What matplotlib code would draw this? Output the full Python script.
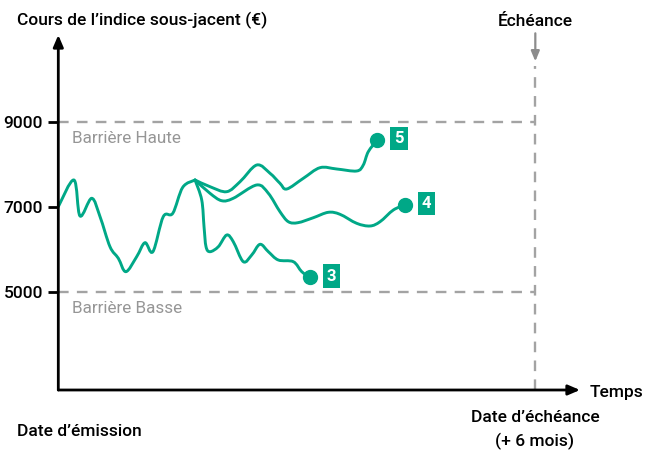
import matplotlib
matplotlib.use('Agg')
import matplotlib.pyplot as plt
from matplotlib.path import Path
from matplotlib.patches import PathPatch
import numpy as np

plt.rcParams['font.family'] = ['Roboto', 'DejaVu Sans']

# ---- data (months since issue, index level in EUR) ----
common_t = [0.0, 0.197, 0.273, 0.42, 0.525, 0.65, 0.755, 0.85, 0.986, 1.09, 1.19, 1.32, 1.44, 1.565, 1.72]
common_v = [7000, 7628, 6781, 7198, 6765, 6059, 5786, 5471, 5824, 6153, 5941, 6765, 6845, 7456, 7628]

path5_t = [1.72, 1.908, 2.118, 2.286, 2.496, 2.663, 2.788, 2.873, 3.082, 3.292, 3.502, 3.753, 3.836, 3.899, 4.013]
path5_v = [7628, 7471, 7353, 7588, 7981, 7786, 7551, 7416, 7668, 7918, 7887, 7840, 7981, 8294, 8569]

path4_t = [1.72, 1.908, 2.055, 2.201, 2.496, 2.642, 2.788, 2.893, 3.015, 3.208, 3.396, 3.543, 3.753, 3.921, 4.047, 4.214, 4.361]
path4_v = [7628, 7315, 7141, 7198, 7511, 7315, 6883, 6647, 6624, 6741, 6868, 6821, 6609, 6546, 6647, 6922, 7040]

path3_t = [1.72, 1.804, 1.833, 1.858, 1.908, 2.013, 2.118, 2.201, 2.327, 2.433, 2.537, 2.642, 2.767, 2.956, 3.062, 3.166]
path3_v = [7628, 7158, 6529, 6059, 5941, 6059, 6334, 6176, 5706, 5864, 6115, 5941, 5746, 5706, 5471, 5339]

path_labels = ["3", "4", "5"]
barrier_high = 9000
barrier_low = 5000
maturity = 6          # months
yticks = [5000, 7000, 9000]

GREEN = '#00a887'
GREY = '#a3a3a3'


def smooth_path(xs, ys):
    # Catmull-Rom through the points, drawn as cubic bezier segments
    pts = np.column_stack([xs, ys]).astype(float)
    p = np.vstack([pts[0], pts, pts[-1]])
    verts = [pts[0]]
    codes = [Path.MOVETO]
    for i in range(1, len(p) - 2):
        p0, p1, p2, p3 = p[i - 1], p[i], p[i + 1], p[i + 2]
        verts += [p1 + (p2 - p0) / 6, p2 - (p3 - p1) / 6, p2]
        codes += [Path.CURVE4] * 3
    return Path(verts, codes)


fig = plt.figure(figsize=(6.6, 4.54), dpi=100)
W, H = 660, 454
ax = fig.add_axes([58.3 / W, (H - 390) / H, (580 - 58.3) / W, (390 - 35) / H])
xmax = 6.562
ymin, ymax = 2687, 11040
ax.set_xlim(0, xmax)
ax.set_ylim(ymin, ymax)
for s in ax.spines.values():
    s.set_visible(False)

# axes with arrows
ax.annotate('', xy=(0, ymax), xytext=(0, ymin), xycoords='data',
            arrowprops=dict(arrowstyle='-|>,head_length=0.7,head_width=0.3', lw=2, color='black',
                            shrinkA=0, shrinkB=0), annotation_clip=False)
ax.annotate('', xy=(xmax, ymin), xytext=(0, ymin), xycoords='data',
            arrowprops=dict(arrowstyle='-|>,head_length=0.7,head_width=0.3', lw=2, color='black',
                            shrinkA=0, shrinkB=0), annotation_clip=False)

ax.set_yticks(yticks)
ax.set_yticklabels([str(v) for v in yticks], fontweight='medium')
ax.tick_params(axis='y', length=7, width=2, pad=4, labelsize=12.5)
ax.set_xticks([])

# barriers
for b in (barrier_high, barrier_low):
    ax.plot([0, maturity], [b, b], color=GREY, lw=1.7, dashes=(4.5, 3.5))
ax.text(0.17, barrier_high - 400, 'Barrière Haute', color='#969696', fontsize=12.3,
        va='center', ha='left')
ax.text(0.17, barrier_low - 400, 'Barrière Basse', color='#969696', fontsize=12.3,
        va='center', ha='left')

# maturity line
ax.plot([maturity, maturity], [ymin, 10300], color=GREY, lw=1.7, dashes=(4.5, 3.5))
ax.annotate('', xy=(maturity, 10420), xytext=(maturity, 11080),
            arrowprops=dict(arrowstyle='-|>,head_length=0.6,head_width=0.25', lw=1.6, color='#8c8c8c',
                            shrinkA=0, shrinkB=0), annotation_clip=False)
ax.text(maturity, 11350, 'Échéance', ha='center', va='center', fontsize=12.5, fontweight='medium')

# paths
ax.add_patch(PathPatch(smooth_path(common_t, common_v), fill=False, ec=GREEN, lw=2.1,
                       capstyle='round', joinstyle='round'))
ends = []
for ts, vs in [(path3_t, path3_v), (path4_t, path4_v), (path5_t, path5_v)]:
    ax.add_patch(PathPatch(smooth_path(ts, vs), fill=False, ec=GREEN, lw=2.1,
                           capstyle='round', joinstyle='round'))
    ax.plot(ts[-1], vs[-1], 'o', color=GREEN, ms=10)
    ends.append((ts[-1], vs[-1]))

for (t, v), lab in zip(ends, path_labels):
    ax.text(t + 0.27, v + 30, lab, color='white', fontsize=12, fontweight='bold',
            ha='center', va='center',
            bbox=dict(boxstyle='square,pad=0.25', fc=GREEN, ec='none'))

# texts outside
kw = dict(fontsize=12.5, fontweight='medium', va='center')
fig.text(17 / W, 1 - 20 / H, 'Cours de l’indice sous-jacent (€)', ha='left', **kw)
fig.text(590 / W, 1 - 393 / H, 'Temps', ha='left', **kw)
fig.text(17 / W, 1 - 432 / H, 'Date d’émission', ha='left', **kw)
fig.text(535 / W, 1 - 418 / H, 'Date d’échéance', ha='center', **kw)
fig.text(535 / W, 1 - 441 / H, '(+ 6 mois)', ha='center', **kw)

fig.savefig('out.png', dpi=100)
